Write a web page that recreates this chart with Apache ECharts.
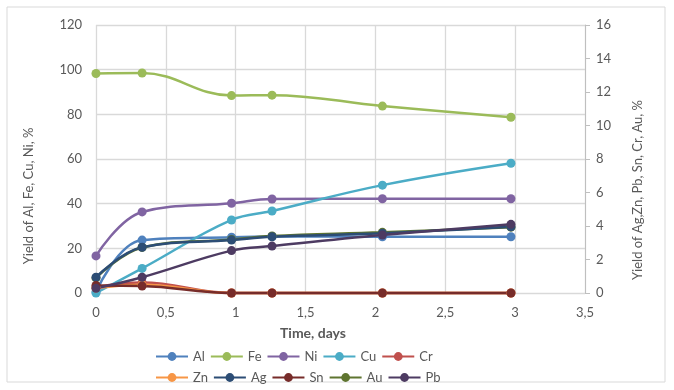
<!DOCTYPE html>
<html><head><meta charset="utf-8">
<script src="https://cdn.jsdelivr.net/npm/echarts@6/dist/echarts.min.js"></script>
<style>html,body{margin:0;padding:0;background:#fff}#c{width:674px;height:390px}</style>
</head><body><div id="c"></div>
<script>
const times = [0, 0.33, 0.97, 1.26, 2.05, 2.97];
// left axis (Al, Fe, Ni, Cu), %
const Al = [0.5, 23.7, 25.0, 25.3, 25.2, 25.2];
const Fe = [98.3, 98.5, 88.4, 88.6, 83.7, 78.7];
const Ni = [16.6, 36.3, 40.2, 42.1, 42.2, 42.2];
const Cu = [0.0, 11.0, 32.7, 36.7, 48.3, 58.1];
// right axis (Cr, Zn, Ag, Sn, Au, Pb), %
const Cr = [0.35, 0.62, 0, 0, 0, 0];
const Zn = [0.3, 0.5, 0, 0, 0, 0];
const Ag = [0.94, 2.73, 3.16, 3.36, 3.56, 3.95];
const Sn = [0.45, 0.42, 0, 0, 0, 0];
const Au = [0.9, 2.72, 3.2, 3.4, 3.62, 3.93];
const Pb = [0.28, 0.94, 2.53, 2.8, 3.46, 4.1];

const names = ['Al','Fe','Ni','Cu','Cr','Zn','Ag','Sn','Au','Pb'];
const values = [Al, Fe, Ni, Cu, Cr, Zn, Ag, Sn, Au, Pb];
const axisIdx = [0,0,0,0,1,1,1,1,1,1];
const colors = ['#4F81BD','#9BBB59','#8064A2','#4BACC6','#C0504D','#F79646','#2C4D75','#772C2A','#5F7530','#4D3B62'];
// drawing order (Au sits underneath Ag)
const drawOrder = [0,1,2,3,4,5,8,6,7,9];

const font = 'Lato, "Noto Sans", sans-serif';
const txt = '#595959';

const series = drawOrder.map(i => ({
  name: names[i], type: 'line', yAxisIndex: axisIdx[i],
  data: times.map((t, j) => [t, values[i][j]]),
  smooth: 0.4, clip: false,
  symbol: 'circle', symbolSize: 9,
  lineStyle: { width: 2.5, color: colors[i] },
  itemStyle: { color: colors[i] },
  emphasis: { disabled: true }
}));

const legendCommon = {
  left: 150, itemWidth: 32, itemHeight: 11, itemGap: 5,
  textStyle: { fontFamily: font, fontSize: 13, color: txt, width: 28 }
};

const chart = echarts.init(document.getElementById('c'));
chart.setOption({
  animation: false,
  grid: { left: 96, right: 89, top: 25, bottom: 97 },
  legend: [
    Object.assign({}, legendCommon, { top: 345, data: names.slice(0,5) }),
    Object.assign({}, legendCommon, { top: 366, data: names.slice(5) })
  ],
  xAxis: {
    type: 'value', min: 0, max: 3.5, interval: 0.5,
    axisLine: { show: true, lineStyle: { color: '#d9d9d9', width: 1 } },
    axisTick: { show: false },
    splitLine: { show: true, lineStyle: { color: '#d9d9d9', width: 1.3 } },
    axisLabel: { fontFamily: font, fontSize: 13, color: txt, margin: 13,
      formatter: v => String(v).replace('.', ',') }
  },
  yAxis: [
    { type: 'value', min: 0, max: 120, interval: 20,
      axisLine: { show: false }, axisTick: { show: false },
      splitLine: { show: true, lineStyle: { color: '#d9d9d9', width: 1.3 } },
      axisLabel: { fontFamily: font, fontSize: 13, color: txt, margin: 14 } },
    { type: 'value', min: 0, max: 16, interval: 2, position: 'right',
      axisLine: { show: true, lineStyle: { color: '#bfbfbf', width: 1 } },
      axisTick: { show: true, length: 5, lineStyle: { color: '#bfbfbf' } },
      splitLine: { show: false },
      axisLabel: { fontFamily: font, fontSize: 13, color: txt, margin: 11 } }
  ],
  graphic: [
    { type: 'rect', shape: { x: 7, y: 7, width: 658, height: 375 }, silent: true,
      style: { fill: null, stroke: '#d9d9d9', lineWidth: 1 } },
    { type: 'text', x: 29, y: 196, rotation: Math.PI / 2, silent: true,
      style: { text: 'Yield of Al, Fe, Cu, Ni, %', fontFamily: font, fontSize: 13, fill: txt,
        align: 'center', verticalAlign: 'middle' } },
    { type: 'text', x: 638, y: 190, rotation: Math.PI / 2, silent: true,
      style: { text: 'Yield of Ag,Zn, Pb, Sn, Cr, Au, %', fontFamily: font, fontSize: 13, fill: txt,
        align: 'center', verticalAlign: 'middle' } },
    { type: 'text', x: 313, y: 333, silent: true,
      style: { text: 'Time, days', fontFamily: font, fontSize: 14, fontWeight: 'bold', fill: txt,
        align: 'center', verticalAlign: 'middle' } }
  ],
  series: series
});
</script></body></html>
